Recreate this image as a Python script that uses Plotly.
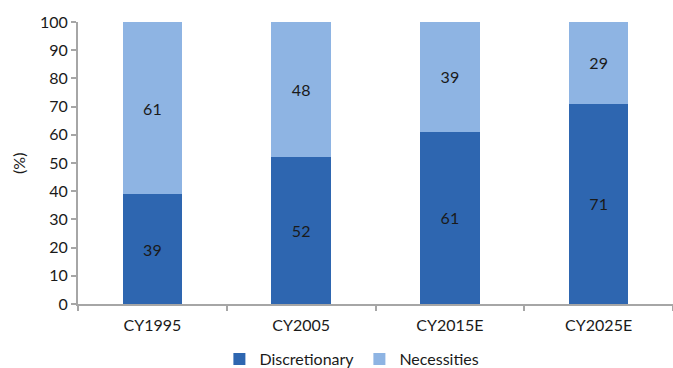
import plotly.graph_objects as go

categories = ["CY1995", "CY2005", "CY2015E", "CY2025E"]
discretionary = [39, 52, 61, 71]
necessities = [61, 48, 39, 29]
y_ticks = list(range(0, 101, 10))

font_family = "Lato, 'Open Sans', sans-serif"
axis_grey = "#a6a6a6"

fig = go.Figure()
fig.add_trace(go.Bar(
    name="Discretionary", x=categories, y=discretionary,
    marker=dict(color="#2E66B0", line=dict(width=0)),
    text=[str(v) for v in discretionary], textposition="inside",
    insidetextanchor="middle", textangle=0,
    textfont=dict(size=16, color="#1a1a1a", family=font_family),
))
fig.add_trace(go.Bar(
    name="Necessities", x=categories, y=necessities,
    marker=dict(color="#8EB4E3", line=dict(width=0)),
    text=[str(v) for v in necessities], textposition="inside",
    insidetextanchor="middle", textangle=0,
    textfont=dict(size=16, color="#1a1a1a", family=font_family),
))

fig.update_layout(
    barmode="stack",
    bargap=0.6,
    width=673, height=368,
    margin=dict(l=78, r=0, t=22, b=64, autoexpand=False),
    plot_bgcolor="white", paper_bgcolor="white",
    font=dict(family=font_family, size=16, color="#1a1a1a"),
    legend=dict(
        orientation="h", xref="container", yref="paper",
        x=0.326, xanchor="left", y=-0.195, yanchor="middle",
        font=dict(size=16), entrywidth=95, traceorder="normal",
        itemclick=False,
    ),
    annotations=[dict(
        text="(%)", xref="paper", yref="paper", x=-0.101, y=0.5,
        xanchor="center", yanchor="middle", textangle=-90,
        showarrow=False, font=dict(size=16, color="#1a1a1a"),
    )],
)
fig.update_xaxes(
    showline=True, linecolor=axis_grey, linewidth=2,
    ticks="outside", ticklen=5, tickcolor=axis_grey, tickwidth=2,
    tickson="boundaries", showgrid=False,
    tickfont=dict(size=16), ticklabelstandoff=6,
)
fig.update_yaxes(
    range=[0, 100], tickvals=y_ticks,
    showline=True, linecolor=axis_grey, linewidth=2,
    ticks="outside", ticklen=5, tickcolor=axis_grey, tickwidth=2,
    showgrid=False, zeroline=False,
    tickfont=dict(size=16),
)

fig.write_html("out.html")
